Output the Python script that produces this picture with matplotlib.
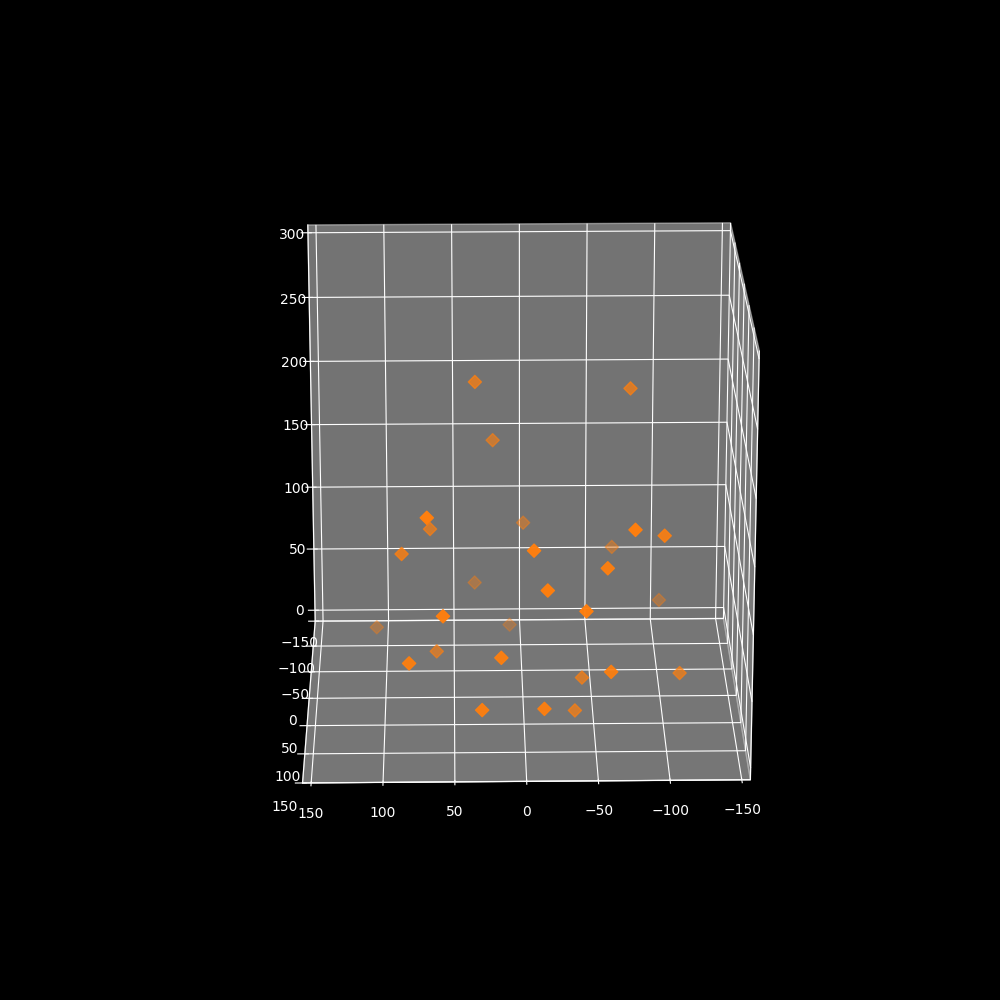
import matplotlib
matplotlib.use("Agg")
import matplotlib.pyplot as plt
import numpy as np

plt.style.use('dark_background')

xs = [34.1, -76.5, 21.3, 68.2, 66.7, -1.2, -75.5, -97.3, -5.6, 86.6,
      -66.5, -56.6, 34.5, -14.8, -102.5, -41.5, 57.5, 107.5, 8.4, 62.5,
      81.2, 17.3, -58.9, -110.8, -41.1, 30.8, -12.3, -35.7]
ys = [0, 0, -30, 120, 15, -60, 120, 90, 120, 60,
      -60, 120, -75, 135, -75, 135, 135, -75, -90, 30,
      135, 135, 135, 60, 60, 150, 150, 75]
zs = [234.0, 228.5, 179.4, 176.3, 128.2, 104.3, 166.5, 150.6, 151.6, 126.6,
      84.8, 138.2, 51.4, 127.9, 36.5, 112.3, 109.3, 16.1, 11.4, 39.8,
      74.3, 78.0, 66.9, 34.2, 31.2, 45.2, 45.8, 12.2]

xticks = [-150, -100, -50, 0, 50, 100, 150]
yticks = [-150, -100, -50, 0, 50, 100, 150]
zticks = [0, 50, 100, 150, 200, 250, 300]

fig = plt.figure(figsize=(10, 10), dpi=100)
ax = fig.add_subplot(projection='3d')
ax.scatter(xs, ys, zs, marker='D', color='tab:orange', s=45)
ax.set_xlim(-156, 156)
ax.set_ylim(-150, 150)
ax.set_zlim(-9, 306)
ax.set_xticks(xticks)
ax.set_yticks(yticks)
ax.set_zticks(zticks)
ax.set_box_aspect((312, 300, 315), zoom=0.941)
ax.view_init(elev=20.3, azim=89)
fig.savefig('out.png', dpi=100)
